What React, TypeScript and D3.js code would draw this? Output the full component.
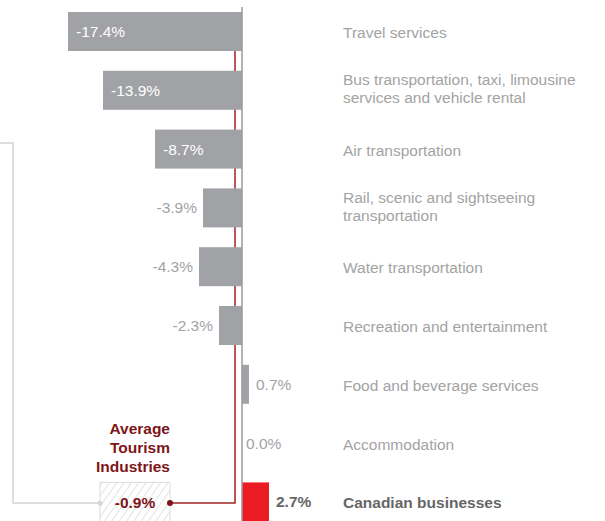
import React from 'react';
import * as d3 from 'd3';

// chart data
const categories: string[][] = [
  ['Travel services'],
  ['Bus transportation, taxi, limousine', 'services and vehicle rental'],
  ['Air transportation'],
  ['Rail, scenic and sightseeing', 'transportation'],
  ['Water transportation'],
  ['Recreation and entertainment'],
  ['Food and beverage services'],
  ['Accommodation'],
  ['Canadian businesses'],
];
const values: number[] = [-17.4, -13.9, -8.7, -3.9, -4.3, -2.3, 0.7, 0.0, 2.7];
const averageLabel: string[] = ['Average', 'Tourism', 'Industries'];
const averageValue = -0.9;

const W = 605;
const H = 521;
const FONT = '"Liberation Sans", Arial, Helvetica, sans-serif';
const FS = 15.5;
const BAR_GRAY = '#a1a2a6';
const TEXT_GRAY = '#a3a3a3';
const DARK_RED = '#7e1518';
const LINE_RED = '#a02226';

const fmt = (v: number) => v.toFixed(1) + '%';

export default function App() {
  const x = d3.scaleLinear().domain([-17.4, 0]).range([68, 242]);
  const y = d3
    .scaleBand<number>()
    .domain(d3.range(categories.length))
    .range([12, 521.4])
    .paddingInner(0.337)
    .paddingOuter(0);
  const bw = y.bandwidth();
  const last = categories.length - 1;
  const lastMid = (y(last) as number) + bw / 2 + 1;

  // hatched box for the average
  const boxX0 = x(-14.2);
  const boxX1 = x(-7.2);
  const xAvg = x(averageValue);

  return (
    <svg
      width={W}
      height={H}
      style={{ position: 'absolute', left: 0, top: 0, background: '#fff' }}
      fontFamily={FONT}
    >
      <defs>
        <pattern id="hatch" patternUnits="userSpaceOnUse" width={6} height={6} patternTransform="rotate(35)">
          <line x1={0} y1={0} x2={0} y2={6} stroke="#c8c8c8" strokeWidth={1} />
        </pattern>
      </defs>

      {/* grey connector on the left */}
      <path
        d={`M${boxX0},${lastMid} H13 V143 H0`}
        fill="none"
        stroke="#d4d4d4"
        strokeWidth={1.5}
      />
      <circle cx={boxX0} cy={lastMid} r={2.5} fill="#d4d4d4" />

      {/* average box */}
      <rect
        x={boxX0}
        y={y(last)}
        width={boxX1 - boxX0}
        height={bw + 2}
        fill="url(#hatch)"
        stroke="#dcdcdc"
        strokeWidth={1}
      />
      <text
        x={(boxX0 + boxX1) / 2}
        y={lastMid}
        dy="0.35em"
        textAnchor="middle"
        fontSize={FS}
        fontWeight="bold"
        fill={DARK_RED}
      >
        {fmt(averageValue)}
      </text>
      {averageLabel.map((t, i) => (
        <text
          key={t}
          x={boxX1}
          y={(y(last) as number) - 10 - (averageLabel.length - 1 - i) * 19}
          textAnchor="end"
          fontSize={FS}
          fontWeight="bold"
          fill={DARK_RED}
        >
          {t}
        </text>
      ))}

      {/* red average line */}
      <path
        d={`M${boxX1},${lastMid} H${xAvg + 2} V12`}
        fill="none"
        stroke={LINE_RED}
        strokeWidth={1.5}
      />
      <circle cx={boxX1} cy={lastMid} r={3} fill={DARK_RED} />

      {/* bars */}
      {values.map((v, i) => (
        <rect
          key={i}
          x={Math.min(x(v), x(0))}
          y={y(i)}
          width={Math.abs(x(v) - x(0))}
          height={bw}
          fill={i === last ? '#ec1c24' : BAR_GRAY}
        />
      ))}

      {/* zero axis */}
      <line x1={x(0)} x2={x(0)} y1={7} y2={H} stroke="#9a9a9a" strokeWidth={1.5} />

      {/* value labels */}
      {values.map((v, i) => {
        const cy = (y(i) as number) + bw / 2;
        const inside = v < -5;
        const label = fmt(v);
        if (inside) {
          return (
            <text key={i} x={x(v) + 8} y={cy} dy="0.35em" fontSize={FS} fill="#fff">
              {label}
            </text>
          );
        }
        if (v < 0) {
          return (
            <text key={i} x={x(v) - 6} y={cy} dy="0.35em" textAnchor="end" fontSize={FS} fill={TEXT_GRAY}>
              {label}
            </text>
          );
        }
        return (
          <text
            key={i}
            x={x(v) + (v === 0 ? 4 : 7)}
            y={cy}
            dy="0.35em"
            fontSize={FS}
            fontWeight={i === last ? 'bold' : 'normal'}
            fill={i === last ? '#666' : TEXT_GRAY}
          >
            {label}
          </text>
        );
      })}

      {/* category labels */}
      {categories.map((lines, i) => {
        const cy = (y(i) as number) + bw / 2;
        const lh = 18;
        const shift = lines.length > 1 ? -1.5 : 1;
        return (
          <text
            key={i}
            x={343}
            fontSize={FS}
            fontWeight={i === last ? 'bold' : 'normal'}
            fill={i === last ? '#666' : TEXT_GRAY}
          >
            {lines.map((l, j) => (
              <tspan key={j} x={343} y={cy + shift - ((lines.length - 1) * lh) / 2 + j * lh} dy="0.35em">
                {l}
              </tspan>
            ))}
          </text>
        );
      })}
    </svg>
  );
}
